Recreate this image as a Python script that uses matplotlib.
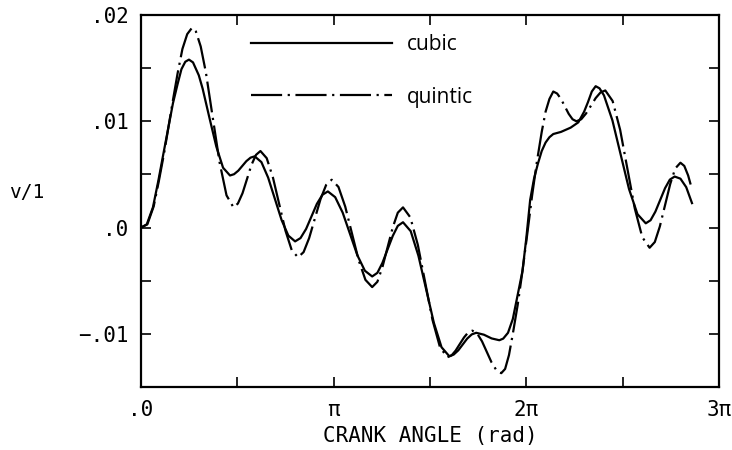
import numpy as np
import matplotlib
matplotlib.use("Agg")
import matplotlib.pyplot as plt

# crank angle in units of pi, v/l in units of 0.001
cubic_x = [0.0, 0.03, 0.062, 0.09, 0.12, 0.166, 0.19, 0.21, 0.23, 0.249,
           0.27, 0.30, 0.32, 0.355, 0.391, 0.426, 0.462,
           0.483, 0.505, 0.526, 0.547, 0.569, 0.59,
           0.625, 0.66, 0.695, 0.73, 0.765, 0.80,
           0.828, 0.857, 0.885, 0.913, 0.942, 0.97,
           1.008, 1.047, 1.085, 1.123, 1.162, 1.20,
           1.227, 1.253, 1.28, 1.307, 1.333, 1.36,
           1.40, 1.44, 1.48, 1.52, 1.56, 1.60,
           1.623, 1.647, 1.67, 1.693, 1.717, 1.74,
           1.78, 1.82, 1.86,
           1.88, 1.905, 1.93, 1.95, 1.98, 2.00, 2.02, 2.04, 2.06, 2.08,
           2.10, 2.12, 2.14, 2.18, 2.23, 2.27, 2.30, 2.32, 2.34, 2.36,
           2.38, 2.403, 2.447, 2.49, 2.533, 2.577, 2.62,
           2.645, 2.67, 2.695, 2.72, 2.745, 2.77,
           2.80, 2.83, 2.86]
cubic_y = [0.0, 0.3, 1.9, 4.4, 7.3, 11.7, 13.5, 14.9, 15.6, 15.8,
           15.54, 14.33, 13.07, 10.35, 7.62, 5.63, 4.9,
           5.02, 5.35, 5.8, 6.25, 6.58, 6.7,
           6.16, 4.7, 2.7, 0.7, -0.76, -1.3,
           -0.99, -0.13, 1.05, 2.23, 3.09, 3.4,
           2.86, 1.4, -0.6, -2.6, -4.06, -4.6,
           -4.26, -3.33, -2.05, -0.78, 0.16, 0.5,
           -0.34, -2.65, -5.8, -8.95, -11.26, -12.1,
           -11.95, -11.55, -11.0, -10.45, -10.05, -9.9,
           -10.08, -10.43, -10.6,
           -10.45, -9.9, -8.6, -6.8, -4.1, -1.0, 2.6, 4.6, 6.0, 7.2,
           8.0, 8.5, 8.8, 9.0, 9.4, 9.9, 10.9, 11.8, 12.8, 13.3,
           13.1, 12.44, 10.08, 6.85, 3.63, 1.26, 0.4,
           0.69, 1.5, 2.6, 3.7, 4.51, 4.8,
           4.6, 3.8, 2.3]

quintic_x = [0.0, 0.033, 0.066, 0.093, 0.12, 0.143, 0.166, 0.19, 0.215, 0.24, 0.265,
             0.285, 0.31, 0.337, 0.3725, 0.408, 0.444, 0.48,
             0.503, 0.527, 0.55, 0.573, 0.597, 0.62,
             0.6525, 0.685, 0.7175, 0.75, 0.7825, 0.815,
             0.844, 0.873, 0.9025, 0.932, 0.961, 0.99,
             1.025, 1.06, 1.095, 1.13, 1.165, 1.20,
             1.227, 1.253, 1.28, 1.307, 1.333, 1.36,
             1.398, 1.437, 1.475, 1.513, 1.552, 1.59,
             1.612, 1.633, 1.655, 1.677, 1.698, 1.72,
             1.745, 1.77, 1.795, 1.82, 1.845, 1.87,
             1.89, 1.91, 1.93, 1.955, 1.98, 2.005, 2.03, 2.055, 2.08, 2.10, 2.12, 2.14,
             2.16, 2.18, 2.20, 2.22, 2.24, 2.26,
             2.285, 2.31, 2.335, 2.36, 2.385, 2.41,
             2.448, 2.487, 2.525, 2.563, 2.602, 2.64,
             2.667, 2.693, 2.72, 2.747, 2.773, 2.80,
             2.82, 2.84, 2.86]
quintic_y = [0.0, 0.3, 2.0, 4.4, 7.0, 9.5, 12.0, 14.5, 16.8, 18.2, 18.8,
             18.45, 17.04, 14.58, 10.35, 6.13, 3.03, 1.9,
             2.26, 3.23, 4.55, 5.88, 6.84, 7.2,
             6.53, 4.7, 2.2, -0.3, -2.13, -2.8,
             -2.31, -0.98, 0.85, 2.68, 4.01, 4.5,
             3.82, 1.98, -0.55, -3.08, -4.92, -5.6,
             -5.1, -3.73, -1.85, 0.03, 1.4, 1.9,
             0.96, -1.63, -5.15, -8.68, -11.26, -12.2,
             -12.03, -11.58, -10.95, -10.33, -9.87, -9.7,
             -9.97, -10.7, -11.7, -12.7, -13.43, -13.7,
             -13.3, -12.0, -10.0, -7.3, -4.1, -0.6, 3.0, 6.2, 9.0, 10.9, 12.1, 12.8,
             12.61, 12.1, 11.4, 10.7, 10.19, 10.0,
             10.19, 10.73, 11.45, 12.18, 12.71, 12.9,
             11.91, 9.2, 5.5, 1.8, -0.91, -1.9,
             -1.36, 0.1, 2.1, 4.1, 5.56, 6.1,
             5.8, 4.9, 3.6]

ytick_vals = [-0.01, 0.0, 0.01, 0.02]
ytick_labels = ["\u2212.01", ".0", ".01", ".02"]
xtick_vals = [0, 1, 2, 3]
xtick_labels = [".0", "\u03c0", "2\u03c0", "3\u03c0"]

fig = plt.figure(figsize=(7.32, 4.5), dpi=100)
ax = fig.add_axes([0.1926, 0.14, 0.7896, 0.8267])

cx = np.array(cubic_x) * np.pi
qx = np.array(quintic_x) * np.pi
ax.plot(cx, np.array(cubic_y) / 1000, color="black", lw=1.6, label="cubic",
        solid_joinstyle="round")
ax.plot(qx, np.array(quintic_y) / 1000, color="black", lw=1.6,
        dashes=(14, 2.5, 1, 2.5), label="quintic")

ax.set_xlim(0, 3 * np.pi)
ax.set_ylim(-0.015, 0.02)

mono = "DejaVu Sans Mono"
ax.set_xticks(np.arange(0, 3.01, 0.5) * np.pi, minor=True)
ax.set_xticks(np.array(xtick_vals) * np.pi)
ax.set_xticklabels(xtick_labels, family=mono, fontsize=15)
ax.set_yticks(np.arange(-0.015, 0.0201, 0.005), minor=True)
ax.set_yticks(ytick_vals)
ax.set_yticklabels(ytick_labels, family=mono, fontsize=15)
ax.tick_params(which="both", direction="in", top=True, right=True,
               length=7, width=1.2, pad=9)
for s in ax.spines.values():
    s.set_linewidth(1.6)

ax.set_xlabel("CRANK ANGLE (rad)", family=mono, fontsize=15, labelpad=5)
ax.set_ylabel("v/1", family=mono, fontsize=14, rotation=0, ha="center", va="center")
ax.yaxis.set_label_coords(-0.197, 0.524)

leg = ax.legend(loc="upper left", bbox_to_anchor=(0.19, 0.948), frameon=False,
                handlelength=6.8, handletextpad=0.67, labelspacing=1.5,
                borderpad=0, borderaxespad=0,
                prop={"family": "Open Sans", "size": 15})

fig.savefig("out.png", dpi=100)
